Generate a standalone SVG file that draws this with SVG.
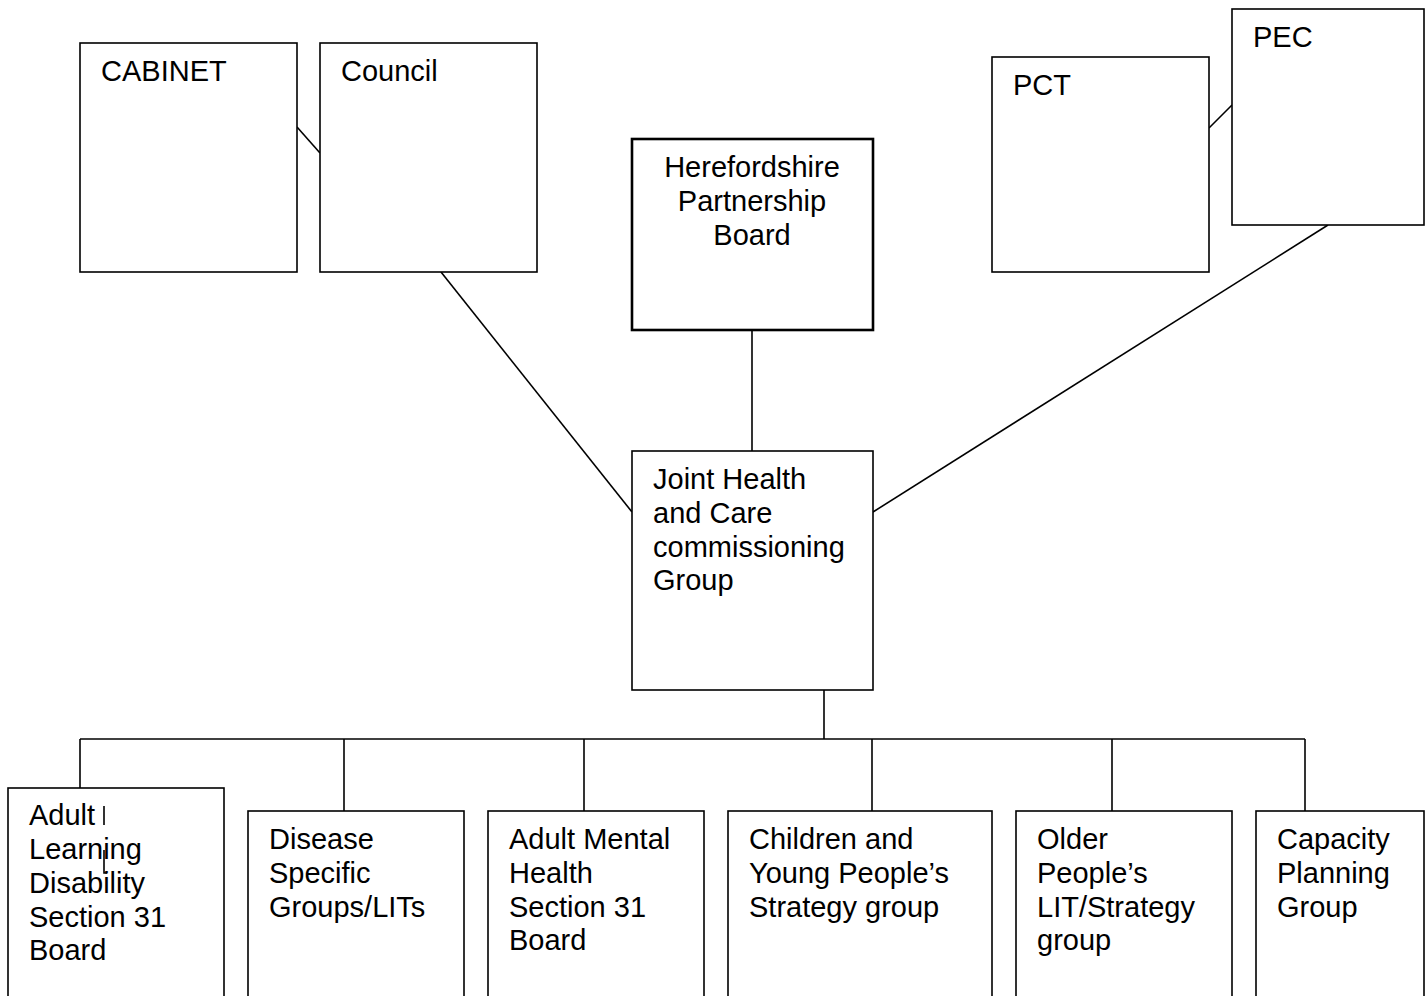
<svg xmlns="http://www.w3.org/2000/svg" width="1428" height="996" viewBox="0 0 1428 996">
<style>
.box{fill:#fff;stroke:#000;stroke-width:1.6}
.thick{stroke-width:2.6}
.t{font-family:"Liberation Sans",Arial,sans-serif;font-size:29px;fill:#000}
.c{text-anchor:middle}
.ln{stroke:#000;stroke-width:1.6;fill:none}
</style>
<rect width="1428" height="996" fill="#fff"/>
<g id="connectors">
<line class="ln" x1="297" y1="127" x2="320" y2="153"/>
<line class="ln" x1="1209" y1="128" x2="1232" y2="105"/>
<line class="ln" x1="441" y1="272" x2="632" y2="512"/>
<line class="ln" x1="1328" y1="225" x2="873" y2="512"/>
<line class="ln" x1="752" y1="330" x2="752" y2="451"/>
<line class="ln" x1="824" y1="690" x2="824" y2="739"/>
<line class="ln" x1="80" y1="739" x2="1305" y2="739"/>
<line class="ln" x1="80" y1="739" x2="80" y2="788"/>
<line class="ln" x1="344" y1="739" x2="344" y2="811"/>
<line class="ln" x1="584" y1="739" x2="584" y2="811"/>
<line class="ln" x1="872" y1="739" x2="872" y2="811"/>
<line class="ln" x1="1112" y1="739" x2="1112" y2="811"/>
<line class="ln" x1="1305" y1="739" x2="1305" y2="811"/>
</g>
<g id="cabinet">
<rect class="box" x="80" y="43" width="217" height="229"/>
<text class="t" x="101" y="81">CABINET</text>
</g>
<g id="council">
<rect class="box" x="320" y="43" width="217" height="229"/>
<text class="t" x="341" y="81">Council</text>
</g>
<g id="pct">
<rect class="box" x="992" y="57" width="217" height="215"/>
<text class="t" x="1013" y="95">PCT</text>
</g>
<g id="pec">
<rect class="box" x="1232" y="9" width="192" height="216"/>
<text class="t" x="1253" y="47">PEC</text>
</g>
<g id="hpb">
<rect class="box thick" x="632" y="139" width="241" height="191"/>
<text class="t c" x="752" y="177">Herefordshire</text>
<text class="t c" x="752" y="211">Partnership</text>
<text class="t c" x="752" y="245">Board</text>
</g>
<g id="jhc">
<rect class="box" x="632" y="451" width="241" height="239"/>
<text class="t" x="653" y="489">Joint Health</text>
<text class="t" x="653" y="523">and Care</text>
<text class="t" x="653" y="557">commissioning</text>
<text class="t" x="653" y="590">Group</text>
</g>
<g id="adult-ld">
<rect class="box" x="8" y="788" width="216" height="220"/>
<text class="t" x="29" y="825">Adult</text>
<text class="t" x="29" y="859">Learning</text>
<text class="t" x="29" y="893">Disability</text>
<text class="t" x="29" y="927">Section 31</text>
<text class="t" x="29" y="960">Board</text>
<path class="ln" d="M104 806V825M104 850V873H107" stroke-width="1.2"/>
</g>
<g id="disease">
<rect class="box" x="248" y="811" width="216" height="200"/>
<text class="t" x="269" y="849">Disease</text>
<text class="t" x="269" y="883">Specific</text>
<text class="t" x="269" y="917">Groups/LITs</text>
</g>
<g id="adult-mh">
<rect class="box" x="488" y="811" width="216" height="200"/>
<text class="t" x="509" y="849">Adult Mental</text>
<text class="t" x="509" y="883">Health</text>
<text class="t" x="509" y="917">Section 31</text>
<text class="t" x="509" y="950">Board</text>
</g>
<g id="children">
<rect class="box" x="728" y="811" width="264" height="200"/>
<text class="t" x="749" y="849">Children and</text>
<text class="t" x="749" y="883">Young People’s</text>
<text class="t" x="749" y="917">Strategy group</text>
</g>
<g id="older">
<rect class="box" x="1016" y="811" width="216" height="200"/>
<text class="t" x="1037" y="849">Older</text>
<text class="t" x="1037" y="883">People’s</text>
<text class="t" x="1037" y="917">LIT/Strategy</text>
<text class="t" x="1037" y="950">group</text>
</g>
<g id="capacity">
<rect class="box" x="1256" y="811" width="168" height="200"/>
<text class="t" x="1277" y="849">Capacity</text>
<text class="t" x="1277" y="883">Planning</text>
<text class="t" x="1277" y="917">Group</text>
</g>
</svg>
